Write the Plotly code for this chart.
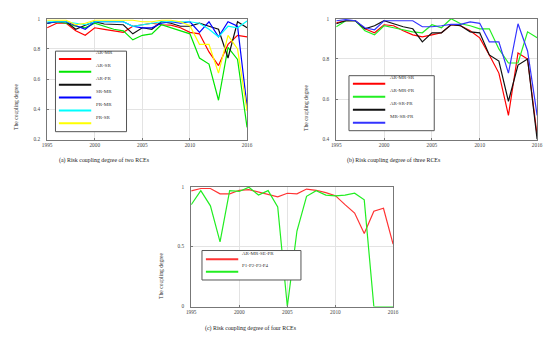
import plotly.graph_objects as go

W, H = 550, 338
FONT = "Liberation Serif"

# ---------------- data ----------------
years = list(range(1995, 2017))
x_tickvals = [1995, 2000, 2005, 2010, 2016]
x_ticktext = ["1995", "2000", "2005", "2010", "2016"]

# (a) two RCEs
two_names = ["AR-MR", "AR-SR", "AR-PR", "SR-MR", "PR-MR", "PR-SR"]
two_colors = ["#ff0000", "#00e600", "#111111", "#0000ff", "#00ffff", "#ffff00"]
ar_mr = [0.94, 0.97, 0.97, 0.92, 0.89, 0.94, 0.93, 0.92, 0.91, 0.95, 0.96, 0.97, 0.96, 0.957, 0.94, 0.91, 0.90, 0.78, 0.69, 0.83, 0.89, 0.88]
ar_sr = [0.97, 0.98, 0.97, 0.95, 0.94, 0.97, 0.95, 0.93, 0.92, 0.86, 0.89, 0.90, 0.96, 0.94, 0.92, 0.90, 0.74, 0.70, 0.46, 0.81, 0.73, 0.28]
ar_pr = [0.97, 0.98, 0.98, 0.93, 0.957, 0.98, 0.965, 0.96, 0.96, 0.90, 0.94, 0.93, 0.98, 0.97, 0.95, 0.95, 0.97, 0.95, 0.93, 0.74, 0.98, 0.94]
sr_mr = [0.97, 0.98, 0.98, 0.957, 0.93, 0.98, 0.98, 0.98, 0.98, 0.95, 0.94, 0.94, 0.97, 0.98, 0.97, 0.98, 0.91, 0.98, 0.88, 0.98, 0.95, 0.42]
pr_mr = [0.98, 0.98, 0.98, 0.97, 0.96, 0.98, 0.98, 0.98, 0.98, 0.95, 0.96, 0.97, 0.98, 0.98, 0.98, 0.98, 0.97, 0.93, 0.88, 0.95, 0.94, 0.985]
pr_sr = [0.99, 0.99, 0.99, 0.96, 0.97, 0.99, 0.99, 0.99, 0.99, 0.99, 0.98, 0.98, 0.99, 0.99, 0.98, 0.953, 0.83, 0.83, 0.64, 0.89, 0.80, 0.39]
two_series = [ar_mr, ar_sr, ar_pr, sr_mr, pr_mr, pr_sr]
a_yticks = [0.2, 0.4, 0.6, 0.8, 1.0]
a_yticktext = ["0.2", "0.4", "0.6", "0.8", "1"]

# (b) three RCEs
three_names = ["AR-MR-SR", "AR-MR-PR", "AR-SR-PR", "MR-SR-PR"]
three_colors = ["#ff0000", "#22ee22", "#111111", "#3333ff"]
ar_mr_sr = [0.98, 0.99, 0.99, 0.95, 0.93, 0.97, 0.965, 0.94, 0.92, 0.91, 0.92, 0.93, 0.97, 0.965, 0.94, 0.905, 0.82, 0.73, 0.52, 0.83, 0.80, 0.42]
ar_mr_pr = [0.96, 0.99, 0.99, 0.94, 0.92, 0.965, 0.955, 0.945, 0.935, 0.93, 0.97, 0.955, 1.0, 0.975, 0.965, 0.95, 0.95, 0.85, 0.78, 0.78, 0.935, 0.905]
ar_sr_pr = [0.975, 0.99, 0.99, 0.95, 0.965, 0.99, 0.975, 0.96, 0.95, 0.885, 0.93, 0.93, 0.97, 0.965, 0.935, 0.93, 0.82, 0.79, 0.59, 0.77, 0.80, 0.40]
mr_sr_pr = [0.99, 0.995, 0.99, 0.955, 0.945, 0.99, 0.99, 0.99, 0.99, 0.96, 0.96, 0.965, 0.972, 0.972, 0.984, 0.977, 0.885, 0.885, 0.73, 0.975, 0.84, 0.52]
three_series = [ar_mr_sr, ar_mr_pr, ar_sr_pr, mr_sr_pr]
b_yticks = [0.4, 0.6, 0.8, 1.0]
b_yticktext = ["0.4", "0.6", "0.8", "1"]

# (c) four RCEs
four_names = ["AR-MR-SE-PR", "P1-P2-P3-P4"]
four_colors = ["#ff3333", "#22ee22"]
ar_mr_se_pr = [0.965, 0.985, 0.985, 0.94, 0.94, 0.97, 0.975, 0.955, 0.94, 0.915, 0.945, 0.94, 0.98, 0.97, 0.95, 0.925, 0.85, 0.78, 0.61, 0.795, 0.82, 0.52]
p1_p4 = [0.85, 0.967, 0.84, 0.54, 0.967, 0.96, 0.995, 0.93, 0.967, 0.83, 0.0, 0.63, 0.92, 0.967, 0.93, 0.924, 0.93, 0.946, 0.89, 0.0, 0.0, 0.0]
four_series = [ar_mr_se_pr, p1_p4]
c_yticks = [0, 0.5, 1.0]
c_yticktext = ["0", "0.5", "1"]

captions = ["(a) Risk coupling degree of two RCEs",
            "(b) Risk coupling degree of three RCEs",
            "(c) Risk coupling degree of four RCEs"]
y_title = "The coupling degree"

# ---------------- layout helpers (pixel boxes) ----------------
def px(x):
    return x / W

def py(y):
    return 1 - y / H

panels = [
    dict(box=(43, 16, 247, 139), yr=[0.2, 1.0], yt=a_yticks, ytt=a_yticktext,
         names=two_names, colors=two_colors, series=two_series,
         leg=dict(box=(51.5, 49, 124, 131), lx=(55, 88), ly0=57, step=13.1, tx=90.5),
         title_xy=(11, 106), cap_xy=(53, 160)),
    dict(box=(338, 16, 543, 139), yr=[0.4, 1.0], yt=b_yticks, ytt=b_yticktext,
         names=three_names, colors=three_colors, series=three_series,
         leg=dict(box=(351, 74, 438, 130), lx=(355, 388), ly0=82.3, step=13.2, tx=391),
         title_xy=(307, 107), cap_xy=(347, 160)),
    dict(box=(190, 187, 396, 309), yr=[0.0, 1.0], yt=c_yticks, ytt=c_yticktext,
         names=four_names, colors=four_colors, series=four_series,
         leg=dict(box=(201, 252, 302, 282), lx=(205, 238), ly0=261, step=12.7, tx=240),
         title_xy=(159, 278), cap_xy=(202, 331)),
]

fig = go.Figure()
shapes = []
annotations = []
layout = dict(
    width=W, height=H, margin=dict(l=0, r=0, t=0, b=0),
    paper_bgcolor="white", plot_bgcolor="white", showlegend=False,
    font=dict(family=FONT, size=5, color="#333333"),
)

for i, p in enumerate(panels):
    n = "" if i == 0 else str(i + 1)
    x0, y0, x1, y1 = p["box"]
    for name, col, vals in zip(p["names"], p["colors"], p["series"]):
        fig.add_trace(go.Scatter(x=years, y=vals, mode="lines", name=name,
                                 line=dict(color=col, width=1.2),
                                 xaxis="x" + n, yaxis="y" + n))
    axcommon = dict(showline=True, mirror=True, linecolor="#777777", linewidth=1,
                    showgrid=True, gridcolor="#e3e3e3", gridwidth=1, zeroline=False,
                    ticks="inside", ticklen=2, tickcolor="#777777",
                    tickfont=dict(family=FONT, size=5.3, color="#444444"))
    layout["xaxis" + n] = dict(domain=[px(x0), px(x1)], range=[1995, 2016],
                               tickmode="array", tickvals=x_tickvals, ticktext=x_ticktext,
                               anchor="y" + n, **axcommon)
    layout["yaxis" + n] = dict(domain=[py(y1), py(y0)], range=p["yr"],
                               tickmode="array", tickvals=p["yt"], ticktext=p["ytt"],
                               anchor="x" + n, ticklabelstandoff=5, **axcommon)
    # legend box
    lg = p["leg"]
    bx0, by0, bx1, by1 = lg["box"]
    shapes.append(dict(type="rect", xref="paper", yref="paper",
                       x0=px(bx0), x1=px(bx1), y0=py(by1), y1=py(by0),
                       line=dict(color="#555555", width=1), fillcolor="white", layer="above"))
    for k, (name, col) in enumerate(zip(p["names"], p["colors"])):
        ly = lg["ly0"] + k * lg["step"]
        shapes.append(dict(type="line", xref="paper", yref="paper",
                           x0=px(lg["lx"][0]), x1=px(lg["lx"][1]), y0=py(ly), y1=py(ly),
                           line=dict(color=col, width=2), layer="above"))
        annotations.append(dict(text=name, xref="paper", yref="paper",
                                x=px(lg["tx"]), y=py(ly - 6.3), xanchor="left", yanchor="middle",
                                showarrow=False, font=dict(family=FONT, size=5, color="#333333")))
    # y title
    tx, ty = p["title_xy"]
    annotations.append(dict(text=y_title, xref="paper", yref="paper", x=px(tx), y=py(ty),
                            xanchor="center", yanchor="middle", textangle=-90, showarrow=False,
                            font=dict(family=FONT, size=5.6, color="#333333")))
    cx, cy = p["cap_xy"]
    annotations.append(dict(text=captions[i], xref="paper", yref="paper", x=px(cx), y=py(cy),
                            xanchor="left", yanchor="middle", showarrow=False,
                            font=dict(family=FONT, size=5.9, color="#222222")))

layout["shapes"] = shapes
layout["annotations"] = annotations
layout["hovermode"] = False
fig.update_layout(**layout)
fig.write_html("out.html", config={"displayModeBar": False, "staticPlot": True},
               post_script="document.body.style.margin='0';")
